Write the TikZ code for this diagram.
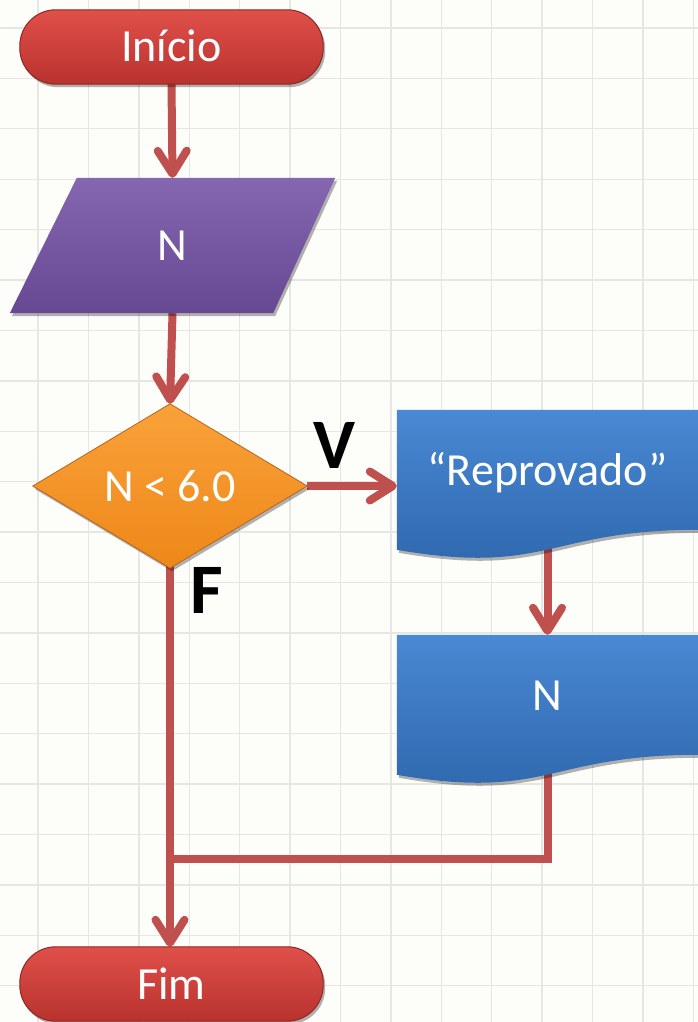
\documentclass[tikz,border=0pt]{standalone}
\usepackage{fontspec}
\setmainfont{Carlito}
\usetikzlibrary{arrows.meta,shadows,calc}
\pgfdeclarelayer{gridlayer}
\pgfdeclarelayer{connlayer}
\pgfdeclarelayer{shapelayer}
\pgfsetlayers{gridlayer,connlayer,shapelayer,main}
\definecolor{paper}{HTML}{FDFDFA}
\definecolor{gridc}{HTML}{E6E6E3}
\definecolor{arrowred}{HTML}{C0504D}
\definecolor{termtop}{HTML}{E0504A}
\definecolor{termbot}{HTML}{B9322E}
\definecolor{termedge}{HTML}{8E2724}
\definecolor{purtop}{HTML}{8567B1}
\definecolor{purbot}{HTML}{664992}
\definecolor{orgtop}{HTML}{F9A23A}
\definecolor{orgbot}{HTML}{EE8718}
\definecolor{orgedge}{HTML}{B5651F}
\definecolor{blutop}{HTML}{4A89D4}
\definecolor{blubot}{HTML}{2D66AC}
\tikzset{
  gridline/.style={draw=gridc, line width=1.4pt},
  conn/.style={draw=arrowred, line width=8pt},
  arr/.style={conn, -{Straight Barb[length=23pt,width=29pt,round]}},
  lbl/.style={text=white, font=\fontsize{46}{46}\selectfont, text height=30pt, text depth=0pt, inner sep=0pt},
  doclbl/.style={lbl, text depth=30pt},
  vflbl/.style={text=black, font=\bfseries\fontsize{71}{71}\selectfont, text height=46pt, text depth=0pt, inner sep=0pt},
  shd/.style={drop shadow={shadow xshift=2pt, shadow yshift=-3pt, opacity=0.3, fill=black}},
  termfill/.style={shd, top color=termtop, bottom color=termbot, draw=termedge, line width=1pt, rounded corners=36pt},
  purfill/.style={shd, top color=purtop, bottom color=purbot},
  orgfill/.style={shd, top color=orgtop, bottom color=orgbot, draw=orgedge, line width=0.8pt},
  blufill/.style={shd, top color=blutop, bottom color=blubot},
}
\begin{document}
\begin{tikzpicture}[x=1pt, y=-1pt]
\useasboundingbox (0,0) rectangle (698,1022);
\begin{pgfonlayer}{gridlayer}
  \fill[paper] (0,0) rectangle (698,1022);
  \foreach \i in {0,...,13} \draw[gridline] ({38+50.4*\i},0) -- ({38+50.4*\i},1022);
  \foreach \i in {0,...,19} \draw[gridline] (0,{28+50.4*\i}) -- (698,{28+50.4*\i});
\end{pgfonlayer}

% nodes (text and anchor boxes)
\node[lbl, minimum width=303pt, minimum height=74pt] (ini) at (171.5,47) {Início};
\node[lbl, minimum width=325pt, minimum height=135pt] (in) at (172.5,245.5) {N};
\node[lbl, minimum width=274pt, minimum height=164pt] (dec) at (170,486) {N < 6.0};
\node[doclbl, minimum width=301pt, minimum height=150pt] (rep) at (547.5,485) {“Reprovado”};
\node[doclbl, minimum width=301pt, minimum height=150pt] (outn) at (547.5,710) {N};
\node[lbl, minimum width=303pt, minimum height=74pt] (fim) at (171.5,984) {Fim};
\node[vflbl] (lv) at (334,445) {V};
\node[vflbl] (lf) at (207,590) {F};
\coordinate (j) at (170,859);

% shapes
\begin{pgfonlayer}{shapelayer}
  \path[termfill] (ini.north west) rectangle (ini.south east);
  \path[termfill] (fim.north west) rectangle (fim.south east);
  \path[purfill] ($(in.north west)+(67,0)$) -- (in.north east)
      -- ($(in.south east)+(-62,0)$) -- (in.south west) -- cycle;
  \path[orgfill] (dec.north) -- (dec.east) -- (dec.south) -- (dec.west) -- cycle;
  \foreach \d in {rep,outn}{
    \path[blufill] (\d.north west) -- (\d.north east) -- ($(\d.north east)+(0,120)$)
      .. controls ($(\d.north)+(0,120)$) and ($(\d.north)+(0,166)$) .. ($(\d.north west)+(0,140)$) -- cycle;
  }
\end{pgfonlayer}

% connectors
\begin{pgfonlayer}{connlayer}
  \draw[arr] (ini.south) -- (in.north);
  \draw[arr] (in.south) -- (dec.north);
  \draw[arr] (dec.east) -- (dec.east -| rep.west);
  \draw[arr] (rep.center) -- (outn.north);
  \draw[conn] (outn.center) |- (j);
  \draw[arr] (dec.center) -- (dec.center |- fim.north);
\end{pgfonlayer}
\end{tikzpicture}
\end{document}
